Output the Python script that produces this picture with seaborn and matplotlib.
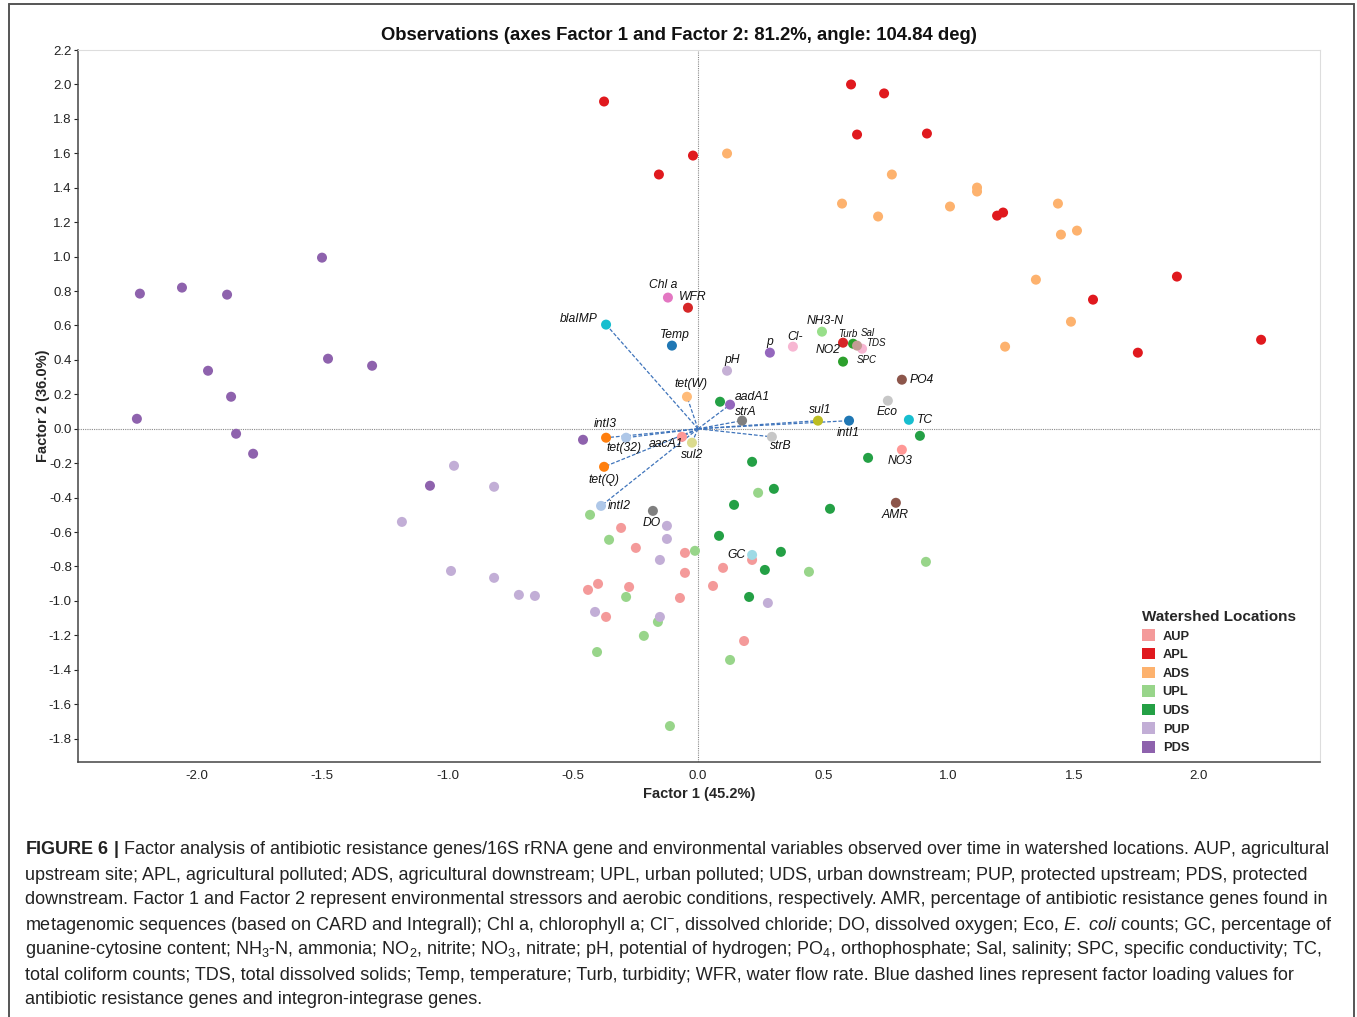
import numpy as np
import pandas as pd
import matplotlib
matplotlib.use('Agg')
import matplotlib.pyplot as plt
import seaborn as sns
from matplotlib.patches import Patch
from matplotlib.lines import Line2D

# observation scores (Factor 1, Factor 2) per watershed location
sites = ['AUP', 'APL', 'ADS', 'UPL', 'UDS', 'PUP', 'PDS']
site_colors = ['#f49a9a', '#e0191e', '#fdb26e', '#98d58a', '#24a045', '#c2aed6', '#8e62ad']

aup_f1 = [-0.307, -0.248, -0.052, -0.052, -0.399, -0.439, -0.275, -0.072, -0.367, 0.100, 0.060, 0.216, 0.184]
aup_f2 = [-0.576, -0.692, -0.721, -0.837, -0.901, -0.936, -0.919, -0.983, -1.093, -0.808, -0.913, -0.762, -1.233]
apl_f1 = [-0.375, -0.020, -0.156, 0.611, 0.743, 0.635, 0.914, 1.194, 1.218, 1.912, 1.577, 1.756, 2.248]
apl_f2 = [1.901, 1.587, 1.477, 2.000, 1.948, 1.709, 1.715, 1.238, 1.256, 0.884, 0.750, 0.442, 0.517]
ads_f1 = [0.116, 0.575, 0.774, 0.719, 1.006, 1.114, 1.114, 1.437, 1.449, 1.513, 1.349, 1.489, 1.226]
ads_f2 = [1.599, 1.308, 1.477, 1.233, 1.291, 1.401, 1.378, 1.308, 1.128, 1.151, 0.866, 0.622, 0.477]
upl_f1 = [-0.431, -0.355, -0.012, -0.287, -0.160, -0.216, -0.403, 0.128, 0.443, 0.910, 0.240, -0.112]
upl_f2 = [-0.500, -0.645, -0.709, -0.977, -1.122, -1.203, -1.297, -1.343, -0.831, -0.773, -0.372, -1.727]
uds_f1 = [0.088, 0.216, 0.679, 0.886, 0.303, 0.144, 0.527, 0.084, 0.331, 0.267, 0.204]
uds_f2 = [0.157, -0.192, -0.169, -0.041, -0.349, -0.442, -0.465, -0.622, -0.715, -0.820, -0.977]
pup_f1 = [-0.974, -0.814, -1.182, -0.986, -0.814, -0.715, -0.651, -0.124, -0.124, -0.152, -0.411, -0.152, 0.279]
pup_f2 = [-0.215, -0.337, -0.541, -0.826, -0.866, -0.965, -0.971, -0.564, -0.640, -0.762, -1.064, -1.093, -1.012]
pds_f1 = [-2.228, -2.060, -1.880, -1.501, -1.956, -1.864, -1.477, -1.301, -2.240, -1.844, -1.776, -0.459, -1.070]
pds_f2 = [0.785, 0.820, 0.779, 0.994, 0.337, 0.186, 0.407, 0.366, 0.058, -0.029, -0.145, -0.064, -0.331]

# variables (genes + environmental)
var_names = ['Chl a', 'WFR', 'blaIMP', 'Temp', 'NH3-N', 'Turb', 'Sal', 'TDS', 'SPC', 'NO2',
             'Cl-', 'p', 'pH', 'PO4', 'tet(W)', 'aadA1', 'strA', 'sul1', 'intI1', 'Eco',
             'TC', 'NO3', 'AMR', 'intI3', 'tet(32)', 'aacA1', 'sul2', 'strB', 'tet(Q)',
             'intI2', 'DO', 'GC']
var_f1 = [-0.120, -0.040, -0.367, -0.104, 0.495, 0.579, 0.619, 0.655, 0.635, 0.579,
          0.379, 0.287, 0.116, 0.814, -0.044, 0.128, 0.176, 0.479, 0.603, 0.758,
          0.842, 0.814, 0.790, -0.367, -0.287, -0.064, -0.024, 0.295, -0.375,
          -0.387, -0.180, 0.216]
var_f2 = [0.762, 0.703, 0.605, 0.483, 0.564, 0.500, 0.494, 0.465, 0.483, 0.390,
          0.477, 0.442, 0.337, 0.285, 0.186, 0.140, 0.047, 0.047, 0.047, 0.163,
          0.052, -0.122, -0.430, -0.052, -0.052, -0.047, -0.081, -0.047, -0.221,
          -0.448, -0.477, -0.733]
var_colors = ['#e377c2', '#d62728', '#17becf', '#1f77b4', '#98df8a', '#d62728', '#2ca02c',
              '#f7b6d2', '#c49c94', '#2ca02c', '#f7b6d2', '#9467bd', '#c5b0d5', '#8c564b',
              '#ffbb78', '#9467bd', '#7f7f7f', '#bcbd22', '#1f77b4', '#c7c7c7', '#17becf',
              '#ff9896', '#8c564b', '#ff7f0e', '#aec7e8', '#ff9896', '#dbdb8d', '#c7c7c7',
              '#ff7f0e', '#aec7e8', '#7f7f7f', '#9edae5']
genes = ['blaIMP', 'tet(W)', 'aadA1', 'strA', 'sul1', 'intI1', 'intI3', 'tet(32)',
         'aacA1', 'sul2', 'strB', 'tet(Q)', 'intI2']

# label placement: offset in pixels from the dot, alignment
label_pos = {
    'Chl a': (-5, 13, 'center'), 'WFR': (5, 11, 'center'), 'blaIMP': (-8, 6, 'right'),
    'Temp': (3, 11, 'center'), 'NH3-N': (3, 11, 'center'), 'Turb': (5, 9, 'center'),
    'Sal': (15, 11, 'center'), 'TDS': (14, 6, 'center'), 'SPC': (10, -14, 'center'),
    'NO2': (-15, 12, 'center'), 'Cl-': (2, 10, 'center'), 'p': (0, 11, 'center'),
    'pH': (5, 11, 'center'), 'PO4': (8, 0, 'left'), 'tet(W)': (4, 13, 'center'),
    'aadA1': (5, 8, 'left'), 'strA': (4, 9, 'center'), 'sul1': (2, 11, 'center'),
    'intI1': (-1, -12, 'center'), 'Eco': (-1, -11, 'center'), 'TC': (8, 0, 'left'),
    'NO3': (-2, -11, 'center'), 'AMR': (-1, -12, 'center'), 'intI3': (-1, 14, 'center'),
    'tet(32)': (-2, -10, 'center'), 'aacA1': (-16, -7, 'center'), 'sul2': (0, -12, 'center'),
    'strB': (9, -9, 'center'), 'tet(Q)': (0, -13, 'center'), 'intI2': (7, 0, 'left'),
    'DO': (-1, -12, 'center'), 'GC': (-7, 0, 'right'),
}
small_labels = ['Turb', 'Sal', 'TDS', 'SPC']

caption_lines = [
    r"$\mathbf{FIGURE\ 6\ |}$ Factor analysis of antibiotic resistance genes/16S rRNA gene and environmental variables observed over time in watershed locations. AUP, agricultural",
    "upstream site; APL, agricultural polluted; ADS, agricultural downstream; UPL, urban polluted; UDS, urban downstream; PUP, protected upstream; PDS, protected",
    "downstream. Factor 1 and Factor 2 represent environmental stressors and aerobic conditions, respectively. AMR, percentage of antibiotic resistance genes found in",
    r"metagenomic sequences (based on CARD and Integrall); Chl a, chlorophyll a; Cl$^{-}$, dissolved chloride; DO, dissolved oxygen; Eco, $\mathit{E.}$ $\mathit{coli}$ counts; GC, percentage of",
    r"guanine-cytosine content; NH$_3$-N, ammonia; NO$_2$, nitrite; NO$_3$, nitrate; pH, potential of hydrogen; PO$_4$, orthophosphate; Sal, salinity; SPC, specific conductivity; TC,",
    "total coliform counts; TDS, total dissolved solids; Temp, temperature; Turb, turbidity; WFR, water flow rate. Blue dashed lines represent factor loading values for",
    "antibiotic resistance genes and integron-integrase genes.",
]

sns.set_style('white')
plt.rcParams['font.family'] = ['Liberation Sans', 'DejaVu Sans']
plt.rcParams['mathtext.fontset'] = 'custom'
plt.rcParams['mathtext.rm'] = 'Liberation Sans'
plt.rcParams['mathtext.it'] = 'Liberation Sans:italic'
plt.rcParams['mathtext.bf'] = 'Liberation Sans:bold'

site_x = [aup_f1, apl_f1, ads_f1, upl_f1, uds_f1, pup_f1, pds_f1]
site_y = [aup_f2, apl_f2, ads_f2, upl_f2, uds_f2, pup_f2, pds_f2]
obs = pd.concat([pd.DataFrame({'f1': sx, 'f2': sy, 'site': s})
                 for s, sx, sy in zip(sites, site_x, site_y)], ignore_index=True)
variables = pd.DataFrame({'name': var_names, 'f1': var_f1, 'f2': var_f2})

fig = plt.figure(figsize=(13.57, 10.17), dpi=100)
ax = fig.add_axes([0.0575, 0.2507, 0.9152, 0.7001])

ax.axhline(0, color='#8a8a8a', lw=0.8, ls=(0, (1, 1)), zorder=1)
ax.axvline(0, color='#8a8a8a', lw=0.8, ls=(0, (1, 1)), zorder=1)

# dashed loading lines for the genes
for g in genes:
    i = var_names.index(g)
    ax.plot([0, var_f1[i]], [0, var_f2[i]], color='#3f74bb', lw=0.9,
            ls=(0, (3, 1.5)), zorder=2)

sns.scatterplot(data=obs, x='f1', y='f2', hue='site', palette=dict(zip(sites, site_colors)),
                s=52, linewidth=0, legend=False, ax=ax, zorder=3)
sns.scatterplot(data=variables, x='f1', y='f2', hue='name',
                palette=dict(zip(var_names, var_colors)),
                s=52, linewidth=0, legend=False, ax=ax, zorder=4)

for name, x, y in zip(var_names, var_f1, var_f2):
    dx, dy, ha = label_pos[name]
    ax.annotate(name, (x, y), xytext=(dx, dy), textcoords='offset pixels',
                ha=ha, va='center', style='italic',
                fontsize=7 if name in small_labels else 8.7, color='#111111', zorder=5)

ax.set_xlim(-2.475, 2.483)
ax.set_ylim(-1.936, 2.2)
ax.set_xticks(np.arange(-2.0, 2.01, 0.5))
ax.set_xticklabels(['-2.0', '-1.5', '-1.0', '-0.5', '0.0', '0.5', '1.0', '1.5', '2.0'])
yt = np.round(np.arange(-1.8, 2.21, 0.2), 1) + 0.0
ax.set_yticks(yt)
ax.set_yticklabels(['%.1f' % (v if abs(v) > 1e-9 else 0.0) for v in yt])
ax.tick_params(axis='x', length=0, pad=6, labelsize=9.5, colors='#222222')
ax.tick_params(axis='y', left=True, length=3, width=0.8, pad=1.5, labelsize=9.5,
               colors='#222222')
ax.set_xlabel('Factor 1 (45.2%)', fontsize=10.5, fontweight='bold', labelpad=3)
ax.set_ylabel('Factor 2 (36.0%)', fontsize=10.5, fontweight='bold', labelpad=-1)

for side in ['left', 'bottom']:
    ax.spines[side].set_color('#444444')
    ax.spines[side].set_linewidth(1.1)
for side in ['top', 'right']:
    ax.spines[side].set_color('#dddddd')
    ax.spines[side].set_linewidth(0.8)

handles = [Patch(facecolor=c, edgecolor='none', label=s) for s, c in zip(sites, site_colors)]
leg = ax.legend(handles=handles, title='Watershed Locations', loc='lower right',
                bbox_to_anchor=(0.987, 0.0), frameon=False, alignment='left',
                handlelength=1.0, handleheight=1.0, handletextpad=0.6,
                labelspacing=0.42, borderaxespad=0.2,
                prop={'weight': 'bold', 'size': 9.3},
                title_fontproperties={'weight': 'bold', 'size': 11.0})

fig.text(0.5, 1 - 35 / 1017, 'Observations (axes Factor 1 and Factor 2: 81.2%, angle: 104.84 deg)',
         ha='center', va='center', fontsize=13.3, fontweight='bold', color='#111111')

# outer frame around figure + caption
for xs, ys in [([9 / 1357, 9 / 1357], [0, 1 - 4 / 1017]),
               ([9 / 1357, 1354 / 1357], [1 - 4 / 1017, 1 - 4 / 1017]),
               ([1354 / 1357, 1354 / 1357], [0, 1 - 4 / 1017])]:
    fig.add_artist(Line2D(xs, ys, color='#555555', lw=1.4, transform=fig.transFigure))

# caption, sized so first line spans the text block
fig.canvas.draw()
renderer = fig.canvas.get_renderer()
probe = fig.text(25 / 1357, 0.5, caption_lines[0], fontsize=12)
w = probe.get_window_extent(renderer).width
probe.remove()
cap_size = 12 * 1303 / w
for k, line in enumerate(caption_lines):
    fig.text(25 / 1357, 1 - (850 + 25 * k) / 1017, line, ha='left', va='center',
             fontsize=cap_size, color='#222222')

fig.savefig('out.png', dpi=100)
